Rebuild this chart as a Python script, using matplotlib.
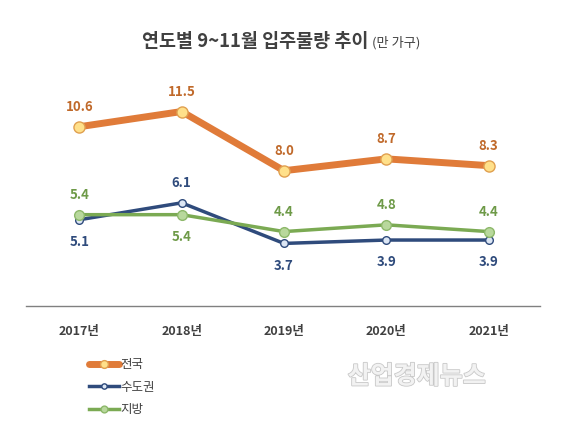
import matplotlib
matplotlib.use("Agg")
import matplotlib.pyplot as plt
import matplotlib.patheffects as pe

plt.rcParams['font.family'] = ['Noto Sans CJK KR', 'DejaVu Sans']

years = ['2017년', '2018년', '2019년', '2020년', '2021년']
national = [10.6, 11.5, 8.0, 8.7, 8.3]
capital = [5.1, 6.1, 3.7, 3.9, 3.9]
regional = [5.4, 5.4, 4.4, 4.8, 4.4]

fig = plt.figure(figsize=(5.67, 4.32), dpi=100)
ax = fig.add_axes([0.046, 0.2917, 0.906, 0.548])
x = list(range(len(years)))

l1, = ax.plot(x, national, color='#E07B39', lw=5, marker='o', ms=8,
              mfc='#FFE08A', mec='#E0A050', mew=1, label='전국', zorder=3, solid_capstyle='round')
l2, = ax.plot(x, capital, color='#2F4B7C', lw=2.5, marker='o', ms=5.5,
              mfc='#DCE6F4', mec='#2F4B7C', mew=1, label='수도권', zorder=2)
l3, = ax.plot(x, regional, color='#7BAA53', lw=2.5, marker='o', ms=7,
              mfc='#B8D89C', mec='#8DB86A', mew=1, label='지방', zorder=2)

ax.set_xlim(-0.52, 4.5)
ax.set_ylim(0, 14)

for xi, v in zip(x, national):
    ax.annotate(f'{v:.1f}', (xi, v), xytext=(0, 9), textcoords='offset points',
                ha='center', va='bottom', fontsize=9.5, fontweight='bold', color='#C0692A')

cap_off = [-11, 9, -11, -11, -11]
for xi, v, o in zip(x, capital, cap_off):
    ax.annotate(f'{v:.1f}', (xi, v), xytext=(0, o), textcoords='offset points',
                ha='center', va='bottom' if o > 0 else 'top', fontsize=9.5,
                fontweight='bold', color='#2F4B7C')

reg_off = [9, -11, 9, 9, 9]
for xi, v, o in zip(x, regional, reg_off):
    ax.annotate(f'{v:.1f}', (xi, v), xytext=(0, o), textcoords='offset points',
                ha='center', va='bottom' if o > 0 else 'top', fontsize=9.5,
                fontweight='bold', color='#6E9A48')

for s in ['top', 'right', 'left']:
    ax.spines[s].set_visible(False)
ax.spines['bottom'].set_color('#808080')
ax.spines['bottom'].set_linewidth(1)
ax.set_yticks([])
ax.set_xticks(x)
ax.set_xticklabels(years, fontsize=9, fontweight='bold', color='#404040')
ax.tick_params(axis='x', length=0, pad=14)

fig.text(0.649, 0.905, '연도별 9~11월 입주물량 추이', ha='right', va='center',
         fontsize=13.3, fontweight='bold', color='#404040')
fig.text(0.656, 0.902, '(만 가구)', ha='left', va='center', fontsize=9.5, color='#404040')

leg = fig.legend(handles=[l1, l2, l3], loc='upper left', bbox_to_anchor=(0.148, 0.182),
                 frameon=False, fontsize=9, handlelength=2.4, labelspacing=0.75,
                 handletextpad=0.1, borderaxespad=0, markerscale=0.7)
for t in leg.get_texts():
    t.set_color('#404040')

fig.text(0.735, 0.128, '산업경제뉴스', ha='center', va='center', fontsize=18,
         color='#F2F2F2', fontweight='bold',
         path_effects=[pe.withStroke(linewidth=1.2, foreground='#C8C8C8')])

fig.savefig('out.png', dpi=100)
